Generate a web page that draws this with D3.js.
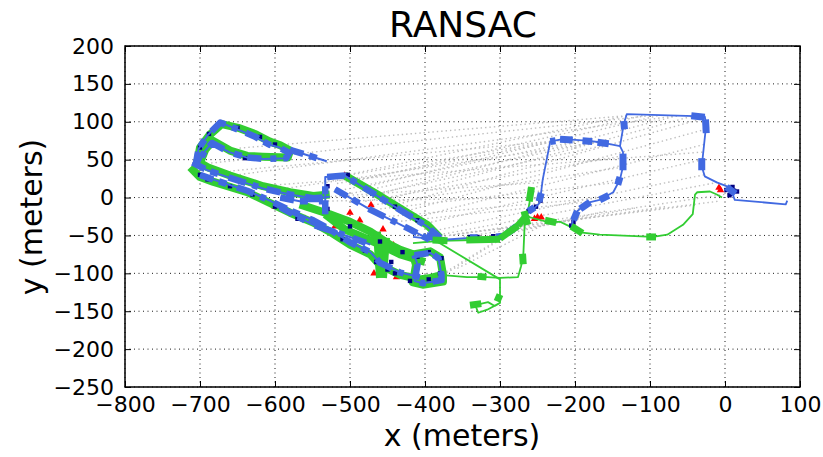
<!DOCTYPE html>
<html><head><meta charset="utf-8">
<script src="https://cdn.jsdelivr.net/npm/d3@7"></script>
<style>
html,body{margin:0;padding:0;background:#fff;}
svg{display:block;font-family:"DejaVu Sans",sans-serif;}
</style></head><body>
<svg id="chart" width="823" height="457"></svg>
<script>
// Axis ticks
const xTicks = [-800, -700, -600, -500, -400, -300, -200, -100, 0, 100];
const yTicks = [-250, -200, -150, -100, -50, 0, 50, 100, 150, 200];

// Blue trajectory, outbound part (meters)
const blueRoute = [[-416,-52],[-380,-56],[-336,-53],[-309,-53],[-287,-46],[-273,-33],[-264,-20],[-256,-16],[-247,-7],[-243,24],[-233,74],[-216,77],[-184,75],[-167,73],[-140,68],[-135,97],[-131,110],[-64,108],[-27,107],[-25,97],[-31,41],[-27,28],[-11,20],[7,13],[13,-3],[81,-9],[83,-4]];
const blueBranch = [[-140,68],[-136,60],[-136,41],[-140,24],[-149,7],[-167,-3],[-184,-7],[-197,-18],[-203,-29],[-204,-38]];
const blueThick = [
  [[-233,74],[-226,75]], [[-220,77],[-203,76]], [[-190,75],[-177,74]], [[-170,73],[-155,71]],
  [[-136,58],[-136,36]], [[-140,27],[-143,17]], [[-155,3],[-167,-3]], [[-180,-6],[-193,-15]],
  [[-197,-18],[-202,-30]], [[-135,101],[-134,90]], [[-45,108],[-27,106]], [[-26,103],[-25,85]],
  [[-31,52],[-31,36]], [[-305,-52],[-296,-51]], [[-340,-53],[-330,-53]], [[-290,-47],[-278,-38]],
  [[-262,-18],[-254,-13]], [[-248,-5],[-245,6]], [[-398,-50],[-375,-57]], [[2,14],[14,5]]
];

// Green trajectory, outbound part (meters)
const greenRoute = [[-380,-102],[-344,-105],[-317,-105],[-300,-106],[-276,-105],[-272,-91],[-269,-78],[-267,-33],[-264,-25],[-260,-3],[-259,10]];
const greenEast = [[-264,-25],[-237,-32],[-220,-32],[-207,-38],[-193,-46],[-167,-49],[-96,-52],[-77,-49],[-56,-36],[-43,-22],[-40,4],[-37,7],[-20,8],[-11,4],[-4,0]];
const greenSouth = [[-389,-55],[-300,-108],[-300,-139],[-307,-143],[-316,-138],[-333,-142],[-329,-152],[-317,-148],[-300,-139]];
const greenAlong = [[-416,-60],[-380,-57],[-336,-56],[-309,-55],[-287,-47],[-273,-35],[-264,-22]];
const greenThick = [
  [[-261,-5],[-258,14]], [[-268,-18],[-263,-36]], [[-270,-74],[-269,-88]], [[-240,-30],[-225,-33]],
  [[-205,-38],[-190,-47]], [[-105,-52],[-92,-52]], [[-340,-142],[-325,-140]], [[-304,-137],[-300,-128]],
  [[-345,-56],[-300,-55]], [[-300,-54],[-276,-37]], [[-276,-37],[-263,-22]], [[-390,-56],[-370,-57]],
  [[-330,-104],[-318,-105]]
];

// Dense loop area, green trajectory
const greenLeft = [
  [[-704,44],[-700,66],[-687,83],[-671,97],[-649,92],[-627,84],[-607,74],[-593,69],[-580,62],[-583,53],[-616,54],[-637,55],[-660,62],[-683,75],[-693,63],[-700,46]],
  [[-713,40],[-700,27],[-683,21],[-637,7],[-607,-7],[-580,-20],[-549,-33],[-527,-45],[-500,-62],[-473,-75],[-460,-89],[-433,-102],[-407,-108],[-393,-106],[-376,-102]],
  [[-707,50],[-690,40],[-660,29],[-616,15],[-580,7],[-549,2],[-527,4]],
  [[-533,-22],[-507,-42],[-460,-62],[-433,-75],[-400,-85]],
  [[-567,-9],[-527,-22],[-500,-32],[-473,-45],[-447,-62],[-433,-69],[-416,-75]],
  [[-452,-53],[-456,-106]],
  [[-464,-45],[-460,-106]],
  [[-416,-75],[-393,-71],[-380,-79],[-376,-102],[-376,-111],[-403,-115],[-416,-112],[-412,-89],[-416,-75]],
  [[-507,29],[-460,2],[-424,-20],[-397,-36],[-380,-53]]
];

// Dense loop area, blue trajectory
const blueLeft = [
  [[-706,42],[-702,64],[-690,82],[-673,99],[-650,90],[-628,81],[-608,70],[-594,66],[-581,59],[-585,52],[-616,51],[-638,53],[-661,60],[-684,72],[-694,61],[-702,44]],
  [[-580,63],[-531,48]],
  [[-710,46],[-690,36],[-660,26],[-616,12],[-580,4],[-549,-1],[-527,1]],
  [[-700,30],[-683,24],[-637,9],[-607,-4],[-580,-17],[-549,-30],[-527,-42],[-500,-59],[-473,-72],[-460,-86],[-433,-99],[-407,-105]],
  [[-533,-22],[-533,27],[-507,29],[-460,0],[-424,-22],[-397,-38],[-380,-53]],
  [[-520,11],[-473,-16],[-420,-42],[-393,-56]],
  [[-414,-76],[-393,-73],[-382,-80],[-378,-102],[-378,-109],[-403,-113],[-414,-110],[-410,-89],[-414,-76]],
  [[-593,0],[-567,-5],[-536,-5]],
  [[-593,-13],[-549,-36],[-500,-52],[-473,-62]]
];

// Matched pose pairs
const links = [
  [[-131,108],[-513,28]], [[-110,108],[-500,20]], [[-90,108],[-487,12]], [[-64,108],[-473,2]],
  [[-45,107],[-460,-5]], [[-27,105],[-447,-12]], [[-26,90],[-433,-20]], [[-28,70],[-420,-28]],
  [[-30,50],[-407,-36]], [[-28,30],[-393,-45]], [[-10,20],[-385,-50]], [[-233,74],[-530,25]],
  [[-216,76],[-520,18]], [[-195,75],[-510,10]], [[-175,73],[-500,5]], [[-155,70],[-490,0]],
  [[-137,55],[-480,-5]], [[-137,40],[-470,-10]], [[-143,20],[-460,-15]], [[-160,0],[-450,-25]],
  [[-185,-6],[-440,-32]], [[-243,20],[-545,0]], [[-246,0],[-555,-5]], [[5,5],[-380,-52]],
  [[-10,-5],[-370,-50]], [[-40,-10],[-360,-48]], [[-80,-12],[-350,-52]], [[-120,-14],[-340,-55]],
  [[-160,-18],[-320,-55]], [[-260,-30],[-400,-115]], [[-250,-25],[-380,-105]], [[-240,-35],[-360,-95]],
  [[-100,108],[-690,45]], [[-64,108],[-650,30]], [[-30,60],[-620,15]], [[-233,74],[-660,35]],
  [[-170,73],[-600,10]], [[-131,108],[-650,65]]
];

// Rejected / anchor points
const navyPts = [[-700,66],[-688,84],[-673,99],[-650,92],[-620,80],[-600,70],[-583,55],[-640,52],[-700,30],[-690,24],[-660,15],[-630,4],[-600,-12],[-570,-28],[-540,-40],[-510,-55],[-480,-70],[-465,-85],[-440,-100],[-420,-110],[-395,-108],[-380,-100],[-378,-80],[-395,-72],[-410,-78],[-503,30],[-470,5],[-440,-12],[-410,-30],[-390,-45],[-530,15],[-530,-15],[-500,-38],[-460,-58],[-430,-72],[-445,-85],[-450,-95],[-340,-52],[-330,-52],[-309,-51],[-300,-51],[-288,-44],[-262,-18],[-252,-12],[-246,-4],[-205,-37],[-202,-32],[2,10],[8,5],[12,9],[16,8],[10,14],[6,3]];
const redPts = [[-507,29],[-520,-38],[-500,-20],[-487,-30],[-472,-10],[-456,-42],[-442,-63],[-600,-12],[-590,-16],[-397,-112],[-250,-26],[-254,-28],[-245,-26],[-8,13],[-6,10],[-438,-105],[-560,-28],[-468,-100]];

const BLUE = "#4169E1", GREEN = "#32CD32", NAVY = "#000080", RED = "#FF0000";

const svg = d3.select("#chart");
const x = d3.scaleLinear().domain([-800, 100]).range([125, 800]);
const y = d3.scaleLinear().domain([-250, 200]).range([387, 46]);
const fmt = d => d < 0 ? "\u2212" + Math.abs(d) : String(d);
const line = d3.line().x(d => x(d[0])).y(d => y(d[1]));

svg.append("defs").append("clipPath").attr("id", "plotclip")
  .append("rect").attr("x", x(-800)).attr("y", y(200))
  .attr("width", x(100) - x(-800)).attr("height", y(-250) - y(200));

// Dotted grid
const grid = svg.append("g");
grid.selectAll(".gx").data(xTicks).join("line")
  .attr("x1", d => x(d)).attr("x2", d => x(d)).attr("y1", y(-250)).attr("y2", y(200))
  .attr("stroke", "#000").attr("stroke-width", 0.9).attr("stroke-dasharray", "1,3.5");
grid.selectAll(".gy").data(yTicks).join("line")
  .attr("y1", d => y(d)).attr("y2", d => y(d)).attr("x1", x(-800)).attr("x2", x(100))
  .attr("stroke", "#000").attr("stroke-width", 0.9).attr("stroke-dasharray", "1,3.5");

const plot = svg.append("g").attr("clip-path", "url(#plotclip)");

// Matched pairs as faint dotted lines
plot.append("g").selectAll("line").data(links).join("line")
  .attr("x1", d => x(d[0][0])).attr("y1", d => y(d[0][1]))
  .attr("x2", d => x(d[1][0])).attr("y2", d => y(d[1][1]))
  .attr("stroke", "#bdbdbd").attr("stroke-width", 1.4).attr("stroke-dasharray", "1.4,3");

function path(g, pts, color, w, dash) {
  const p = g.append("path").attr("d", line(pts)).attr("fill", "none")
    .attr("stroke", color).attr("stroke-width", w)
    .attr("stroke-linejoin", "round").attr("stroke-linecap", "butt");
  if (dash) p.attr("stroke-dasharray", dash);
  return p;
}

// Red markers
plot.append("g").selectAll("path").data(redPts).join("path")
  .attr("d", d3.symbol(d3.symbolTriangle, 24))
  .attr("transform", d => `translate(${x(d[0])},${y(d[1])})`)
  .attr("fill", RED);

// Green trajectory
const gG = plot.append("g");
[greenRoute, greenEast, greenSouth, greenAlong].forEach(p => path(gG, p, GREEN, 1.8));
greenLeft.forEach(p => path(gG, p, GREEN, 8));

// Navy markers
plot.append("g").selectAll("rect").data(navyPts).join("rect")
  .attr("x", d => x(d[0]) - 2.2).attr("y", d => y(d[1]) - 2.2)
  .attr("width", 4.4).attr("height", 4.4).attr("fill", NAVY);

// Blue trajectory
const gB = plot.append("g");
[blueRoute, blueBranch].forEach(p => path(gB, p, BLUE, 1.8));
blueLeft.forEach(p => { path(gB, p, BLUE, 2); path(gB, p, BLUE, 6.5, "14,6,8,11,18,7,6,9"); });
blueThick.forEach(p => path(gB, p, BLUE, 7));

// Thick green stretches on top
greenThick.forEach(p => path(plot, p, GREEN, 7));

// Axes with inward ticks on all four sides
const axB = svg.append("g").attr("transform", `translate(0,${y(-250)})`)
  .call(d3.axisBottom(x).tickValues(xTicks).tickSize(-6).tickPadding(9).tickFormat(fmt));
const axL = svg.append("g").attr("transform", `translate(${x(-800)},0)`)
  .call(d3.axisLeft(y).tickValues(yTicks).tickSize(-6).tickPadding(11).tickFormat(fmt));
const axT = svg.append("g").attr("transform", `translate(0,${y(200)})`)
  .call(d3.axisTop(x).tickValues(xTicks).tickSize(-6).tickFormat(""));
const axR = svg.append("g").attr("transform", `translate(${x(100)},0)`)
  .call(d3.axisRight(y).tickValues(yTicks).tickSize(-6).tickFormat(""));
[axB, axL, axT, axR].forEach(a => {
  a.select(".domain").remove();
  a.selectAll(".tick line").attr("stroke", "#000").attr("stroke-width", 1);
  a.selectAll("text").attr("fill", "#000").attr("font-size", 22)
    .attr("font-family", "DejaVu Sans, sans-serif");
});

// Frame
svg.append("rect").attr("x", x(-800)).attr("y", y(200))
  .attr("width", x(100) - x(-800)).attr("height", y(-250) - y(200))
  .attr("fill", "none").attr("stroke", "#000").attr("stroke-width", 1.5);

// Titles
svg.append("text").attr("x", 463).attr("y", 37).attr("text-anchor", "middle")
  .attr("font-size", 36).attr("fill", "#000").text("RANSAC");
svg.append("text").attr("x", 462).attr("y", 446).attr("text-anchor", "middle")
  .attr("font-size", 30).attr("fill", "#000").text("x (meters)");
svg.append("text").attr("transform", "translate(42,217) rotate(-90)").attr("text-anchor", "middle")
  .attr("font-size", 30).attr("fill", "#000").text("y (meters)");
</script>
</body></html>
